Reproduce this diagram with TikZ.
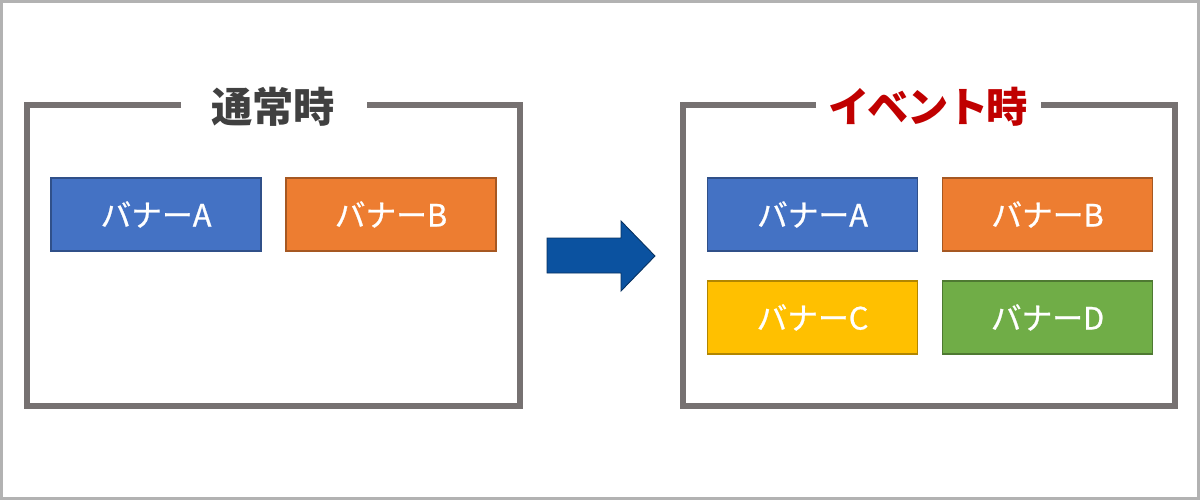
\documentclass[tikz,border=0pt]{standalone}
\usepackage{fontspec}
\newfontfamily\jpfont{Noto Sans CJK JP}
\newfontfamily\jpbannerfont[FakeBold=0.8]{Noto Sans CJK JP}
\usepackage{tikz}
\usetikzlibrary{positioning,calc}
\usepackage{xcolor}

\definecolor{framegray}{HTML}{767171}
\definecolor{titlegray}{HTML}{404040}
\definecolor{titlered}{HTML}{C00000}
\definecolor{bannerA}{HTML}{4472C4}
\definecolor{bannerB}{HTML}{ED7D31}
\definecolor{bannerC}{HTML}{FFC000}
\definecolor{bannerD}{HTML}{70AD47}
\definecolor{arrowblue}{HTML}{0B52A0}

\tikzset{
  banner/.style={draw=#1!70!black, fill=#1, text=white, line width=0.6pt,
    minimum width=4.2cm, minimum height=1.46cm, inner sep=0pt,
    font=\jpbannerfont\fontsize{17.5}{20}\selectfont},
  frameline/.style={draw=framegray, line width=0.12cm},
  title/.style={font=\jpfont\bfseries\fontsize{23.5}{26}\selectfont, inner sep=0pt}
}

\begin{document}
\begin{tikzpicture}[x=0.02cm, y=-0.02cm]
  \useasboundingbox (0,0) rectangle (1200,500);
  \draw[black!30, line width=0.06cm] (1.5,1.5) rectangle (1198.5,498.5);

  % normal
  \node[title, text=titlegray] (normal) at (273,107) {通常時};
  \draw[frameline] (181,105) -- (27,105) -- (27,406) -- (520,406) -- (520,105) -- (367,105);
  \node[banner=bannerA] (nA) at (156,214.5) {バナーA};
  \node[banner=bannerB] (nB) at (391,214.5) {バナーB};

  % arrow
  \draw[draw=arrowblue!60!black, fill=arrowblue, line width=0.5pt]
    (547,238) -- (621,238) -- (621,221) -- (655,256) -- (621,291) -- (621,273) -- (547,273) -- cycle;

  % event
  \node[title, text=titlered] (event) at (928,107) {\addfontfeatures{LetterSpace=-4}イベント時};
  \draw[frameline] (816,105) -- (683,105) -- (683,406) -- (1175,406) -- (1175,105) -- (1041,105);
  \node[banner=bannerA] (eA) at (812.5,214.5) {バナーA};
  \node[banner=bannerB] (eB) at (1047.5,214.5) {バナーB};
  \node[banner=bannerC] (eC) at (812.5,317.5) {バナーC};
  \node[banner=bannerD] (eD) at (1047.5,317.5) {バナーD};
\end{tikzpicture}
\end{document}
